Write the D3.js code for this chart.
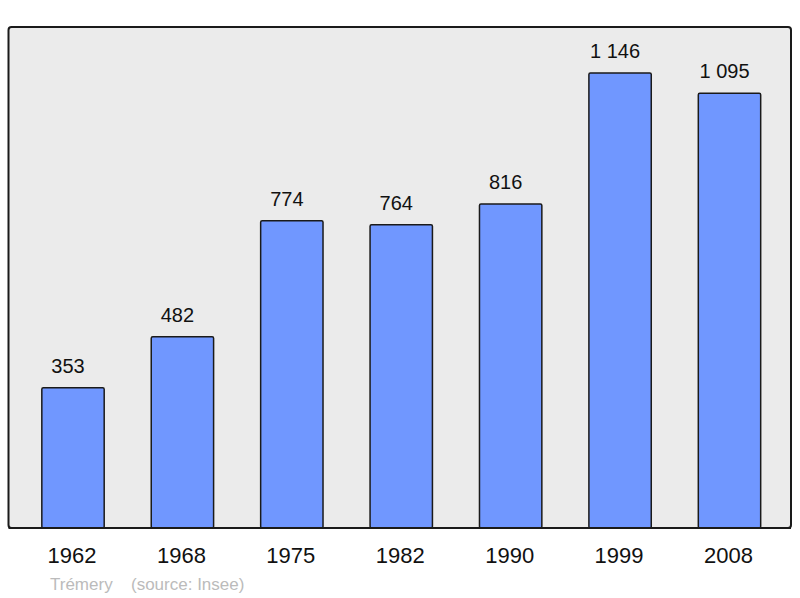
<!DOCTYPE html>
<html lang="fr">
  <head>
    <meta charset="UTF-8" />
    <title>Trémery population</title>
    <script src="https://d3js.org/d3.v7.min.js"></script>
    <style>
      body {
        margin: 0;
        background: #fff;
        font-family: "Liberation Sans", Arial, sans-serif;
      }
      .frame {
        fill: #ebebeb;
        stroke: #1a1a1a;
        stroke-width: 2px;
      }
      .bar {
        fill: #7097ff;
        stroke: #1a1a1a;
        stroke-width: 1.5px;
      }
      .value {
        font-size: 20px;
        fill: #111;
      }
      .year {
        font-size: 22px;
        fill: #111;
      }
      .source {
        font-size: 17px;
        fill: #bbb;
      }
    </style>
  </head>
  <body>
    <svg id="chart" width="800" height="598"></svg>

    <script>
      const years = ["1962", "1968", "1975", "1982", "1990", "1999", "2008"];
      const population = [353, 482, 774, 764, 816, 1146, 1095];
      const valueLabels = ["353", "482", "774", "764", "816", "1 146", "1 095"];

      const data = years.map((y, i) => ({
        year: y,
        value: population[i],
        label: valueLabels[i],
      }));

      const svg = d3.select("#chart");

      const x = d3
        .scaleBand()
        .domain(years)
        .range([18.3, 784.2])
        .paddingInner(0.43)
        .paddingOuter(0.215);

      const y = d3.scaleLinear().domain([0, 1146]).range([528, 73]);

      // plot frame
      svg
        .append("rect")
        .attr("class", "frame")
        .attr("x", 8.5)
        .attr("y", 27)
        .attr("width", 782.5)
        .attr("height", 501)
        .attr("rx", 3);

      // bars
      svg
        .selectAll(".bar")
        .data(data)
        .join("rect")
        .attr("class", "bar")
        .attr("x", (d) => x(d.year))
        .attr("y", (d) => y(d.value))
        .attr("width", x.bandwidth())
        .attr("height", (d) => y(0) - y(d.value))
        .attr("rx", 1.5);

      // redraw frame bottom line over bars
      svg
        .append("line")
        .attr("x1", 8.5)
        .attr("x2", 791)
        .attr("y1", 528)
        .attr("y2", 528)
        .attr("stroke", "#1a1a1a")
        .attr("stroke-width", 2);

      // value labels (sit a little left of bar centre, as in the original)
      svg
        .selectAll(".value")
        .data(data)
        .join("text")
        .attr("class", "value")
        .attr("text-anchor", "middle")
        .attr("x", (d) => x(d.year) + x.bandwidth() / 2 - 5)
        .attr("y", (d) => y(d.value) - 15)
        .text((d) => d.label);

      // year axis (labels only)
      const axis = svg
        .append("g")
        .attr("transform", "translate(0,528)")
        .call(d3.axisBottom(x).tickSize(0).tickPadding(35));
      axis.select(".domain").remove();
      axis
        .selectAll("text")
        .attr("class", "year")
        .attr("x", -1)
        .attr("dy", null)
        .attr("font-family", null)
        .attr("font-size", null)
        .attr("fill", null);
      axis.attr("font-family", null).attr("font-size", null);

      // source line
      svg
        .append("text")
        .attr("class", "source")
        .attr("x", 50)
        .attr("y", 590)
        .text("Trémery");
      svg
        .append("text")
        .attr("class", "source")
        .attr("x", 131)
        .attr("y", 590)
        .text("(source: Insee)");
    </script>
  </body>
</html>
